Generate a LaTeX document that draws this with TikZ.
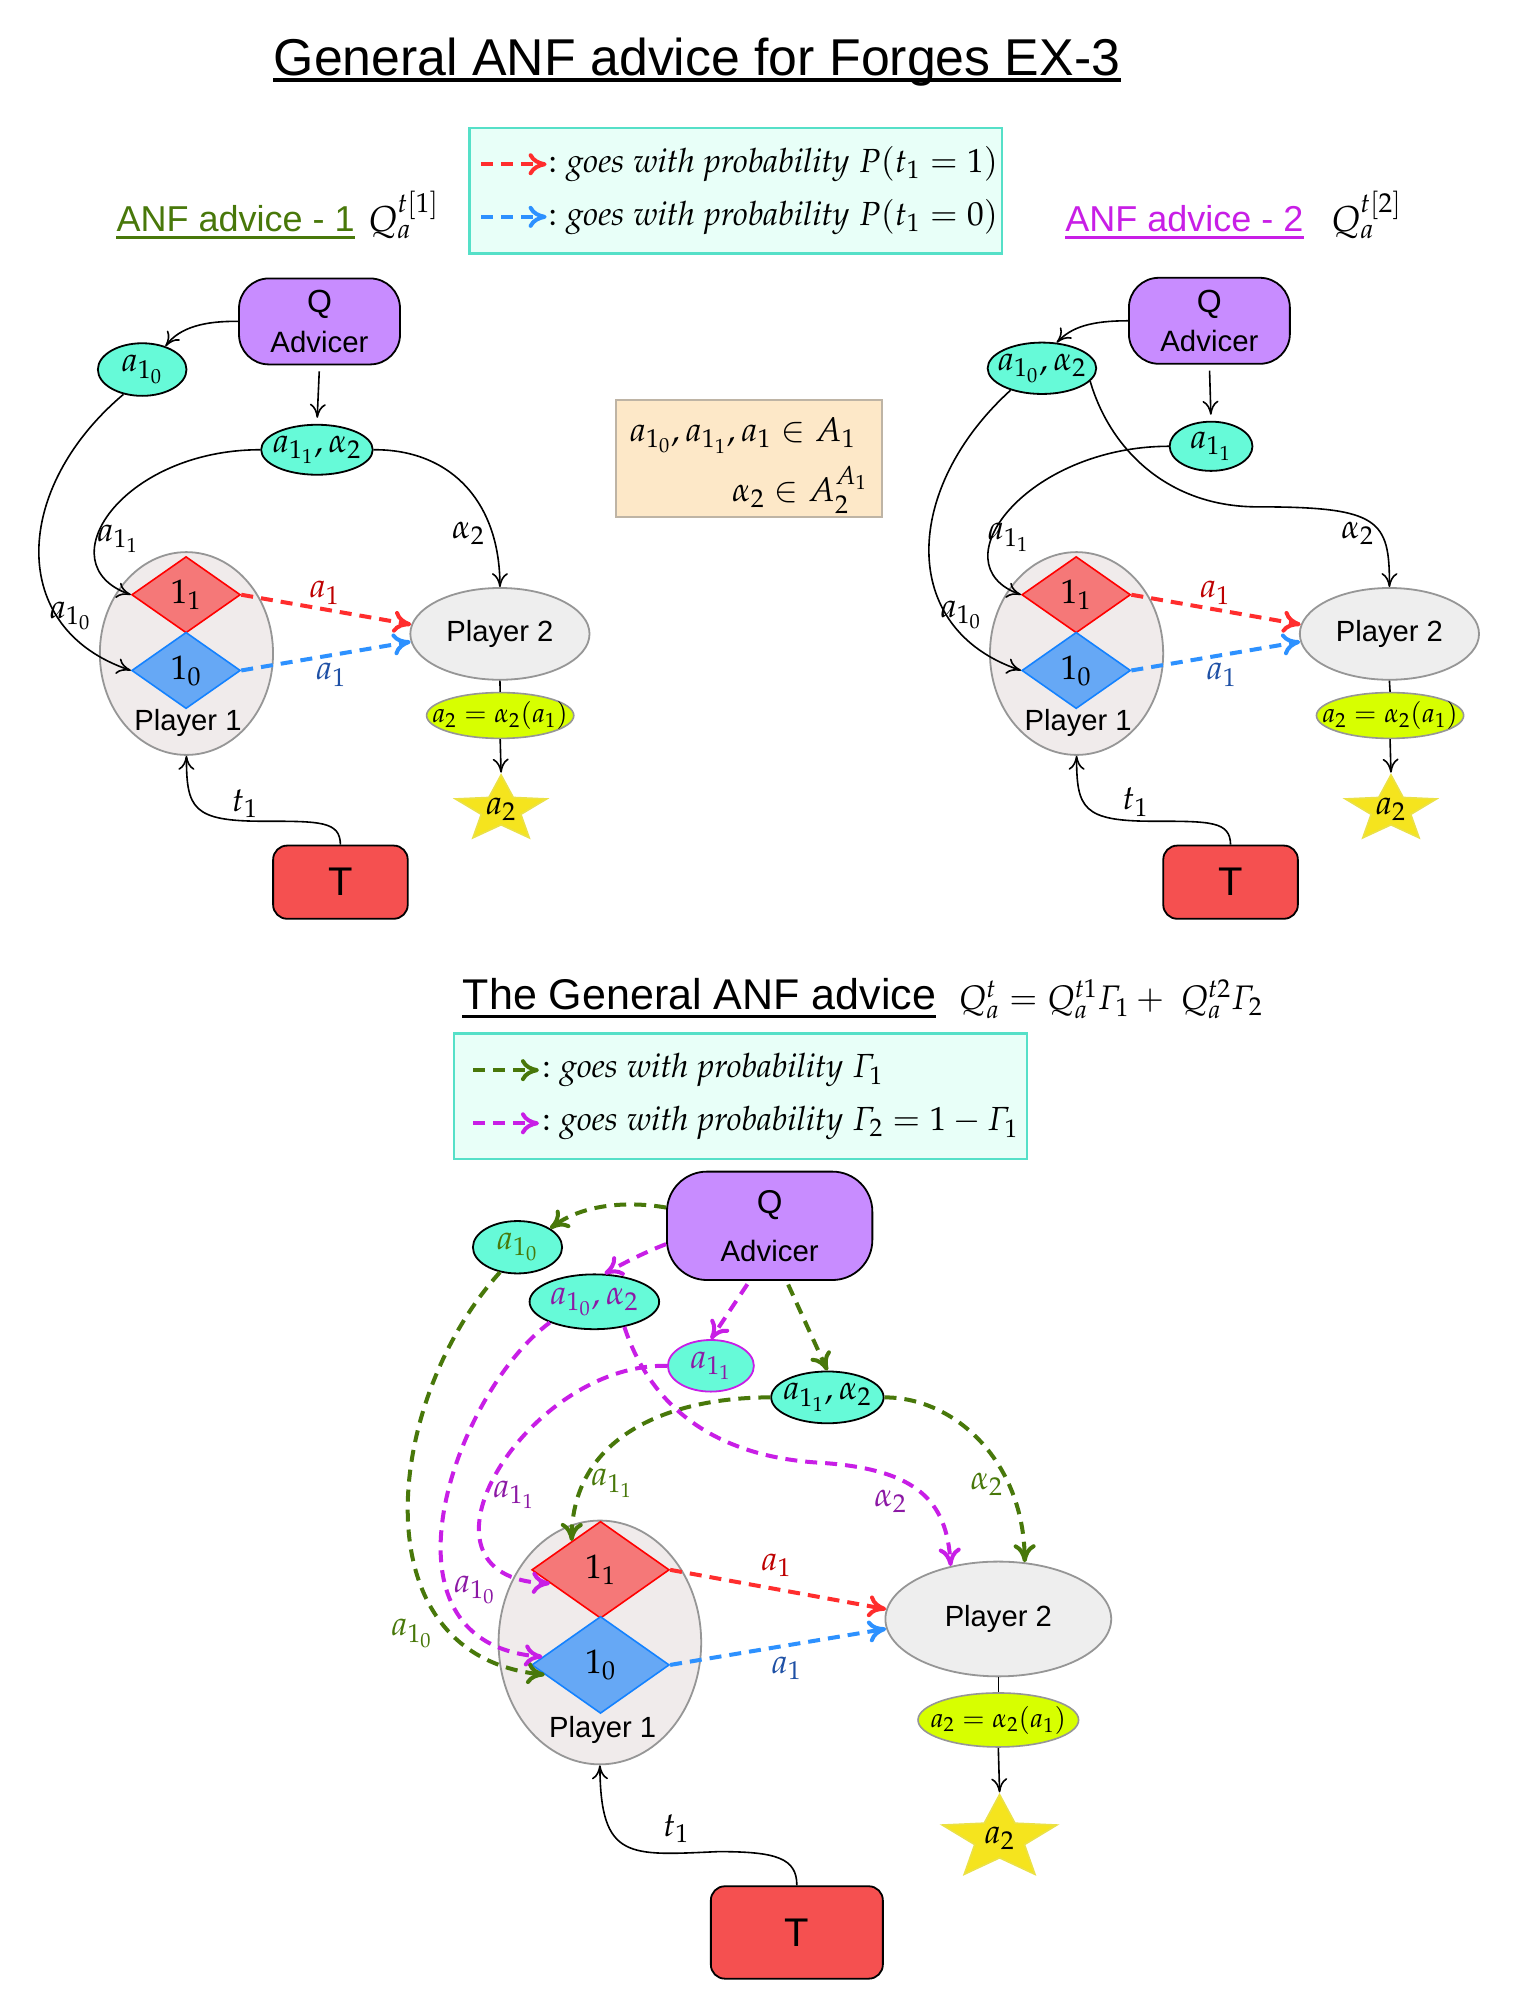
\documentclass[tikz,border=0pt]{standalone}
\usepackage{amsmath}
\usepackage{mathpazo}
\usepackage[no-math]{fontspec}
\setmainfont{Liberation Sans}
\usetikzlibrary{shapes.geometric, arrows.meta}
\definecolor{qPurple}{RGB}{200, 140, 255}
\definecolor{aquaNode}{RGB}{102, 250, 216}
\definecolor{plGray}{RGB}{150, 150, 150}
\definecolor{pOneFill}{RGB}{240, 235, 235}
\definecolor{pTwoFill}{RGB}{238, 238, 238}
\definecolor{diaRed}{RGB}{245, 120, 120}
\definecolor{diaRedLine}{RGB}{255, 0, 0}
\definecolor{diaBlue}{RGB}{102, 168, 245}
\definecolor{diaBlueLine}{RGB}{20, 130, 255}
\definecolor{tRed}{RGB}{245, 80, 80}
\definecolor{starYellow}{RGB}{245, 228, 30}
\definecolor{starLine}{RGB}{235, 225, 70}
\definecolor{eqLime}{RGB}{215, 255, 0}
\definecolor{legFill}{RGB}{232, 255, 248}
\definecolor{legLine}{RGB}{85, 224, 200}
\definecolor{setFill}{RGB}{253, 232, 200}
\definecolor{setLine}{RGB}{190, 180, 165}
\definecolor{redDash}{RGB}{255, 45, 45}
\definecolor{blueDash}{RGB}{45, 145, 255}
\definecolor{redLbl}{RGB}{190, 0, 0}
\definecolor{blueLbl}{RGB}{30, 80, 165}
\definecolor{anfGreen}{RGB}{72, 120, 10}
\definecolor{anfMagenta}{RGB}{200, 30, 230}
\definecolor{magLbl}{RGB}{140, 25, 165}
\newcommand{\zw}[1]{\makebox[0pt]{#1}}
\begin{document}
\begin{tikzpicture}[x=0.6416pt, y=0.6416pt,
    qbox/.style={draw, line width=0.9pt, fill=qPurple, rounded corners=15pt, align=center, inner sep=0pt, font=\fontsize{14.7}{19.6}\selectfont},
    aval/.style={ellipse, draw, line width=0.9pt, fill=aquaNode, inner sep=0pt, font=\fontsize{17}{20}\selectfont},
    pone/.style={ellipse, draw=plGray, line width=0.9pt, fill=pOneFill, inner sep=0pt},
    ptwo/.style={ellipse, draw=plGray, line width=0.9pt, fill=pTwoFill, inner sep=0pt, font=\fontsize{14.6}{17}\selectfont},
    dred/.style={diamond, draw=diaRedLine, line width=0.8pt, fill=diaRed, inner sep=0pt, font=\fontsize{17}{20}\selectfont},
    dblue/.style={diamond, draw=diaBlueLine, line width=0.8pt, fill=diaBlue, inner sep=0pt, font=\fontsize{17}{20}\selectfont},
    aeq/.style={ellipse, draw=plGray, line width=0.8pt, fill=eqLime, inner sep=0pt, font=\fontsize{13.5}{15}\selectfont},
    prize/.style={star, star points=5, star point ratio=2.3, draw=starLine, line width=0.8pt, fill=starYellow, inner sep=0pt, transform shape},
    tbox/.style={draw, line width=0.9pt, fill=tRed, rounded corners=7pt, inner sep=0pt, font=\fontsize{20}{24}\selectfont},
    legbox/.style={draw=legLine, line width=1.2pt, fill=legFill},
    ptxt/.style={inner sep=0pt, font=\fontsize{14.6}{17}\selectfont},
    lbl/.style={inner sep=0pt, font=\fontsize{17}{20}\selectfont},
    lgtxt/.style={anchor=west, inner sep=0pt, font=\fontsize{16.7}{20}\selectfont},
    arr/.style={line width=0.8pt, -{To[length=7pt,width=8pt]}},
    prob/.style={line width=2pt, dash pattern=on 6pt off 4pt, -{To[length=9pt,width=11pt]}},
  ]
  \path[use as bounding box, fill=white] (0,0) rectangle (1183,-1568);

  % heading and legend for t_1
  \node[anchor=base, inner sep=0pt, font=\fontsize{25.9}{30}\selectfont] (title) at (543.2,-58.5) {General ANF advice for Forges EX-3};
  \draw[line width=1.9pt] ([yshift=-2.4pt]title.base west) -- ([yshift=-2.4pt]title.base east);

  \node[legbox, minimum width=266.3pt, minimum height=62.8pt] (legT) at (573.5,-148.5) {};
  \coordinate (redA) at (375,-128);
  \coordinate (redB) at (426,-128);
  \coordinate (blueA) at (375,-169);
  \coordinate (blueB) at (426,-169);
  \draw[prob, redDash] (redA) -- (redB);
  \draw[prob, blueDash] (blueA) -- (blueB);
  \node[lgtxt] (legTone) at (427,-128) {${:}\ \mathit{goes\ with\ probability}\ P(t_1 = 1)$};
  \node[lgtxt] (legTzero) at (427,-169) {${:}\ \mathit{goes\ with\ probability}\ P(t_1 = 0)$};

  \node[anchor=base west, inner sep=0pt, font=\fontsize{18}{21}\selectfont, text=anfGreen] (anfOne) at (90.6,-180.5) {ANF advice - 1};
  \draw[anfGreen, line width=1.5pt] ([yshift=-2.9pt]anfOne.base west) -- ([yshift=-2.9pt]anfOne.base east);
  \node[anchor=base west, inner sep=0pt, font=\fontsize{18}{21}\selectfont] (qOne) at (286.6,-180.5) {$Q_a^{t[1]}$};
  \node[anchor=base west, inner sep=0pt, font=\fontsize{18}{21}\selectfont, text=anfMagenta] (anfTwo) at (830,-180.5) {ANF advice - 2};
  \draw[anfMagenta, line width=1.5pt] ([yshift=-2.9pt]anfTwo.base west) -- ([yshift=-2.9pt]anfTwo.base east);
  \node[anchor=base west, inner sep=0pt, font=\fontsize{18}{21}\selectfont] (qTwo) at (1037,-180.5) {$Q_a^{t[2]}$};

  % the action sets
  \node[draw=setLine, line width=1pt, fill=setFill, minimum width=132.9pt, minimum height=58.7pt] (sets) at (583.4,-357.5) {};
  \node[anchor=base west, lbl] (setsA) at (490.4,-344) {$a_{1_0}, a_{1_1}, a_1 \in A_1$};
  \node[anchor=base east, lbl] (setsB) at (676.7,-391) {$\alpha_2 \in A_2^{A_1}$};

  % ---------- ANF advice - 1 ----------
  \node[qbox, minimum width=80.5pt, minimum height=43pt] (qL) at (249,-250.5) {{\fontsize{16}{19.6}\selectfont Q}\\Advicer};
  \node[aval, minimum width=44.3pt, minimum height=26.3pt] (a10L) at (110.8,-288) {\zw{$a_{1_0}$}};
  \node[aval, minimum width=55.8pt, minimum height=25pt] (a11L) at (247,-350.5) {\zw{$a_{1_1}, \alpha_2$}};
  \node[pone, minimum width=86.6pt, minimum height=101.4pt] (p1L) at (145.3,-509.3) {};
  \node[dred, minimum width=54.4pt, minimum height=38.2pt] (d11L) at (145,-463.5) {$1_1$};
  \node[dblue, minimum width=54.4pt, minimum height=38.2pt] (d10L) at (145,-522.5) {$1_0$};
  \node[ptxt] (p1tL) at (146.5,-563.5) {Player 1};
  \node[ptwo, minimum width=89.6pt, minimum height=45.9pt] (p2L) at (389.6,-494) {\zw{Player 2}};
  \node[aeq, minimum width=73.6pt, minimum height=22.9pt] (a2eqL) at (389.8,-557.6) {\zw{$a_2 = \alpha_2(a_1)$}};
  \begin{scope}[shift={(390.5,-631)}, xscale=1.377]
    \node[prize, minimum size=34.8pt] (starL) at (0,0) {};
  \end{scope}
  \node[lbl] (starTxtL) at (starL.center) {$a_2$};
  \node[tbox, minimum width=67.3pt, minimum height=36.6pt] (tL) at (265.3,-687.5) {T};

  \draw[arr] (qL.west) .. controls (160,-250) and (140,-255) .. (a10L.45);
  \draw[arr, shorten <=3pt, shorten >=3pt] (qL.south) -- (a11L.north);
  \draw[arr] (a10L.233) .. controls (10,-380) and (5,-490) .. (d10L.west);
  \draw[arr] (a11L.west) .. controls (95,-350.5) and (35,-440) .. (d11L.west);
  \draw[arr] (a11L.east) .. controls (350,-350) and (389.6,-390) .. (p2L.north);
  \draw[prob, redDash] (d11L.east) -- (p2L.174);
  \draw[prob, blueDash] (d10L.east) -- (p2L.185);
  \draw[line width=0.8pt] (p2L.south) -- (a2eqL.north);
  \draw[arr] (a2eqL.south) -- (starL.north);
  \draw[arr] (tL.north) .. controls (265,-640) and (250,-640) .. (205,-640) .. controls (150,-640) and (145.3,-630) .. (p1L.south);
  \node[lbl] (lblA10L) at (55,-480) {$a_{1_0}$};
  \node[lbl] (lblA11L) at (92,-420) {$a_{1_1}$};
  \node[lbl] (lblAl2L) at (365,-416) {$\alpha_2$};
  \node[lbl, text=redLbl] (lblRedL) at (253,-462) {$a_1$};
  \node[lbl, text=blueLbl] (lblBlueL) at (258,-526) {$a_1$};
  \node[lbl] (lblTL) at (191,-626) {$t_1$};

  % ---------- ANF advice - 2 ----------
  \node[qbox, minimum width=80.5pt, minimum height=43pt] (qR) at (942.5,-250) {{\fontsize{16}{19.6}\selectfont Q}\\Advicer};
  \node[aval, minimum width=54.3pt, minimum height=25.7pt] (a10R) at (812,-287) {\zw{$a_{1_0}, \alpha_2$}};
  \node[aval, minimum width=41.4pt, minimum height=24.6pt] (a11R) at (943.8,-347.8) {\zw{$a_{1_1}$}};
  \node[pone, minimum width=86.6pt, minimum height=101.4pt] (p1R) at (839,-509.3) {};
  \node[dred, minimum width=54.4pt, minimum height=38.2pt] (d11R) at (838.7,-463.5) {$1_1$};
  \node[dblue, minimum width=54.4pt, minimum height=38.2pt] (d10R) at (838.7,-522.5) {$1_0$};
  \node[ptxt] (p1tR) at (840.2,-563.5) {Player 1};
  \node[ptwo, minimum width=89.6pt, minimum height=45.9pt] (p2R) at (1082.8,-494) {\zw{Player 2}};
  \node[aeq, minimum width=73.6pt, minimum height=22.9pt] (a2eqR) at (1083.3,-557.6) {\zw{$a_2 = \alpha_2(a_1)$}};
  \begin{scope}[shift={(1084,-631)}, xscale=1.377]
    \node[prize, minimum size=34.8pt] (starR) at (0,0) {};
  \end{scope}
  \node[lbl] (starTxtR) at (starR.center) {$a_2$};
  \node[tbox, minimum width=67.3pt, minimum height=36.6pt] (tR) at (959,-687.5) {T};

  \draw[arr] (qR.west) .. controls (850,-250) and (835,-255) .. (a10R.60);
  \draw[arr, shorten <=3pt, shorten >=3pt] (qR.south) -- (a11R.north);
  \draw[arr] (a10R.215) .. controls (704,-380) and (699,-490) .. (d10R.west);
  \draw[arr] (a11R.west) .. controls (800,-348) and (730,-440) .. (d11R.west);
  \draw[arr] (a10R.345) .. controls (865,-350) and (910,-395) .. (980,-395) .. controls (1075,-395) and (1083,-405) .. (p2R.north);
  \draw[prob, redDash] (d11R.east) -- (p2R.174);
  \draw[prob, blueDash] (d10R.east) -- (p2R.185);
  \draw[line width=0.8pt] (p2R.south) -- (a2eqR.north);
  \draw[arr] (a2eqR.south) -- (starR.north);
  \draw[arr] (tR.north) .. controls (958.7,-640) and (943.7,-640) .. (898.7,-640) .. controls (843.7,-640) and (839,-630) .. (p1R.south);
  \node[lbl] (lblA10R) at (749,-479) {$a_{1_0}$};
  \node[lbl] (lblA11R) at (786,-419) {$a_{1_1}$};
  \node[lbl] (lblAl2R) at (1058,-416) {$\alpha_2$};
  \node[lbl, text=redLbl] (lblRedR) at (947,-462) {$a_1$};
  \node[lbl, text=blueLbl] (lblBlueR) at (952,-526) {$a_1$};
  \node[lbl] (lblTR) at (885,-625) {$t_1$};

  % ---------- the general advice ----------
  \node[anchor=base west, inner sep=0pt, font=\fontsize{21.5}{25}\selectfont] (titleB) at (360.4,-787) {The General ANF advice};
  \draw[line width=1.4pt] ([yshift=-3.4pt]titleB.base west) -- ([yshift=-3.4pt]titleB.base east);
  \node[anchor=base west, inner sep=0pt, font=\fontsize{17}{20}\selectfont] (mixB) at (746.8,-787) {$Q_a^t = Q_a^{t1}\varGamma_1 + \ Q_a^{t2}\varGamma_2$};

  \node[legbox, minimum width=286.7pt, minimum height=62.8pt] (legG) at (577,-854.3) {};
  \coordinate (grA) at (369,-834);
  \coordinate (grB) at (420,-834);
  \coordinate (mgA) at (369,-875.4);
  \coordinate (mgB) at (420,-875.4);
  \draw[prob, anfGreen] (grA) -- (grB);
  \draw[prob, anfMagenta] (mgA) -- (mgB);
  \node[lgtxt] (legGone) at (422,-834) {${:}\ \mathit{goes\ with\ probability}\ \varGamma_1$};
  \node[lgtxt] (legGtwo) at (422,-875.4) {${:}\ \mathit{goes\ with\ probability}\ \varGamma_2 = 1 - \varGamma_1$};

  \node[qbox, rounded corners=20pt, minimum width=102.7pt, minimum height=54.2pt, font=\fontsize{14.7}{24}\selectfont] (qB) at (599.8,-955.3) {{\fontsize{16.5}{24}\selectfont Q}\\Advicer};
  \node[aval, minimum width=44.6pt, minimum height=26.2pt, text=anfGreen] (a10B) at (403.3,-972) {\zw{$a_{1_0}$}};
  \node[aval, minimum width=64.8pt, minimum height=27.4pt, text=magLbl] (a10a2B) at (463.2,-1014.5) {\zw{$a_{1_0}, \alpha_2$}};
  \node[aval, draw=anfMagenta, minimum width=43pt, minimum height=25.8pt, text=magLbl] (a11B) at (554,-1064.4) {\zw{$a_{1_1}$}};
  \node[aval, minimum width=56.2pt, minimum height=25.9pt] (a11a2B) at (644.8,-1089) {\zw{$a_{1_1}, \alpha_2$}};
  \node[pone, minimum width=101.3pt, minimum height=121.9pt] (p1B) at (467.5,-1280) {};
  \node[dred, minimum width=68.8pt, minimum height=48.5pt] (d11B) at (468,-1223.4) {$1_1$};
  \node[dblue, minimum width=68.8pt, minimum height=48.5pt] (d10B) at (468,-1297.5) {$1_0$};
  \node[ptxt] (p1tB) at (469.7,-1348) {Player 1};
  \node[ptwo, minimum width=112.9pt, minimum height=57.4pt] (p2B) at (778,-1261.7) {\zw{Player 2}};
  \node[aeq, minimum width=80.3pt, minimum height=27pt] (a2eqB) at (778,-1340.4) {\zw{$a_2 = \alpha_2(a_1)$}};
  \begin{scope}[shift={(779,-1432.9)}, xscale=1.365]
    \node[prize, minimum size=44.1pt] (starB) at (0,0) {};
  \end{scope}
  \node[lbl] (starTxtB) at (starB.center) {$a_2$};
  \node[tbox, minimum width=86pt, minimum height=46.2pt] (tB) at (621,-1506) {T};

  % green: advice 1, magenta: advice 2
  \draw[prob, anfGreen] (qB.170) .. controls (490,-936) and (455,-938) .. (a10B.30);
  \draw[prob, anfMagenta] (qB.190) .. controls (500,-977) and (485,-985) .. (a10a2B.70);
  \draw[prob, anfMagenta, shorten <=2pt] (qB.250) -- (a11B.north);
  \draw[prob, anfGreen, shorten <=2pt] (qB.287) -- (a11a2B.north);
  \draw[prob, anfGreen] (a10B.235) .. controls (300,-1090) and (277,-1290) .. (d10B.190);
  \draw[prob, anfMagenta] (a10a2B.205) .. controls (355,-1085) and (285,-1280) .. (d10B.172);
  \draw[prob, anfMagenta] (a11B.west) .. controls (410,-1062) and (308,-1230) .. (d11B.195);
  \draw[prob, anfGreen] (a11a2B.west) .. controls (520,-1089) and (446,-1120) .. (d11B.135);
  \draw[prob, anfMagenta] (a10a2B.320) .. controls (505,-1090) and (550,-1135) .. (640,-1140) .. controls (715,-1145) and (738,-1170) .. (p2B.132);
  \draw[prob, anfGreen] (a11a2B.east) .. controls (745,-1089) and (798,-1140) .. (p2B.65);
  \draw[prob, redDash] (d11B.east) -- (p2B.175);
  \draw[prob, blueDash] (d10B.east) -- (p2B.185);
  \draw[line width=0.8pt] (p2B.south) -- (a2eqB.north);
  \draw[arr] (a2eqB.south) -- (starB.north);
  \draw[arr] (tB.north) .. controls (621,-1448) and (605,-1443) .. (560,-1443) .. controls (490,-1446) and (468,-1450) .. (p1B.south);
  \node[lbl, text=anfGreen] (lblA10gB) at (321,-1273) {$a_{1_0}$};
  \node[lbl, text=magLbl] (lblA10mB) at (370,-1239) {$a_{1_0}$};
  \node[lbl, text=magLbl] (lblA11mB) at (400.5,-1165) {$a_{1_1}$};
  \node[lbl, text=anfGreen] (lblA11gB) at (477,-1156) {$a_{1_1}$};
  \node[lbl, text=magLbl] (lblAl2mB) at (694,-1170) {$\alpha_2$};
  \node[lbl, text=anfGreen] (lblAl2gB) at (769,-1157) {$\alpha_2$};
  \node[lbl, text=redLbl] (lblRedB) at (605,-1220) {$a_1$};
  \node[lbl, text=blueLbl] (lblBlueB) at (613,-1300) {$a_1$};
  \node[lbl] (lblTB) at (527,-1425) {$t_1$};
\end{tikzpicture}
\end{document}
